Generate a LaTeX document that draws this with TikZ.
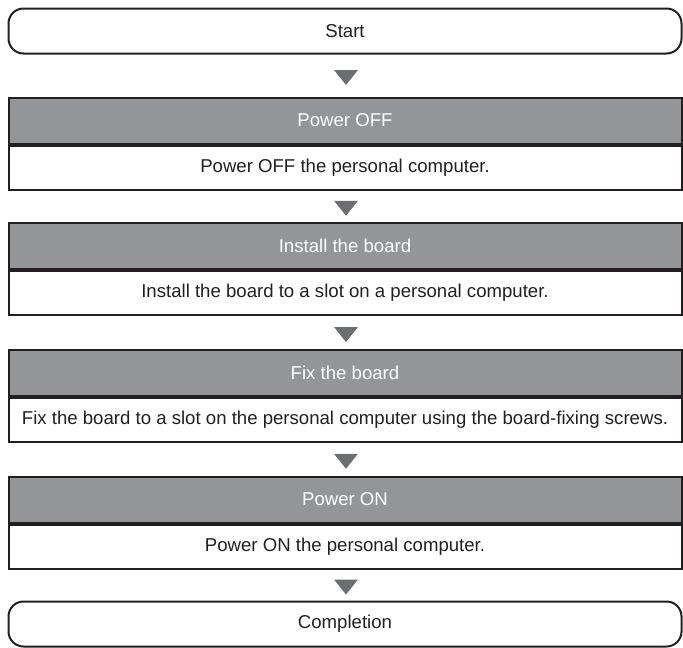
\documentclass[tikz,border=0pt]{standalone}
\usepackage{fontspec}
\setmainfont{Liberation Sans}
\usetikzlibrary{calc}
\definecolor{edge}{HTML}{231F20}
\definecolor{headgray}{HTML}{939598}
\definecolor{trigray}{HTML}{6D6E71}
\tikzset{
  txt/.style={font=\fontsize{18.6}{21}\selectfont},
  term/.style={txt, draw=edge, line width=2pt, rounded corners=15pt, minimum width=673pt, minimum height=45pt, inner sep=0pt, anchor=north west, text=edge},
  head/.style={txt, draw=edge, fill=headgray, line width=2pt, minimum width=673pt, minimum height=46pt, inner sep=0pt, anchor=north west, text=white},
  body/.style={txt, draw=edge, line width=2pt, minimum width=673pt, minimum height=44pt, inner sep=0pt, anchor=north west, text=edge},
  tri/.style={fill=trigray},
}
\begin{document}
\begin{tikzpicture}[x=1pt,y=-1pt]
\useasboundingbox (0,0) rectangle (683,648);
\node[term] (start) at (7.5,7.5) {Start};
\node[head] (h1) at (7.5,96.5) {Power OFF};
\node[body] (b1) at (h1.south west) {Power OFF the personal computer.};
\node[head] (h2) at (7.5,222) {Install the board};
\node[body] (b2) at (h2.south west) {Install the board to a slot on a personal computer.};
\node[head] (h3) at (7.5,349) {Fix the board};
\node[body] (b3) at (h3.south west) {Fix the board to a slot on the personal computer using the board-fixing screws.};
\node[head] (h4) at (7.5,475.5) {Power ON};
\node[body] (b4) at (h4.south west) {Power ON the personal computer.};
\node[term] (end) at (7.5,600.5) {Completion};
\foreach \a/\b/\n in {start/h1/t0, b1/h2/t1, b2/h3/t2, b3/h4/t3, b4/end/t4}{
  \coordinate (\n) at ($(\a.south)!0.5!(\b.north)+(1,2)$);
  \fill[tri] (\n) ++(-12,-7.5) -- ++(24,0) -- ++(-12,15) -- cycle;
}
\end{tikzpicture}
\end{document}
